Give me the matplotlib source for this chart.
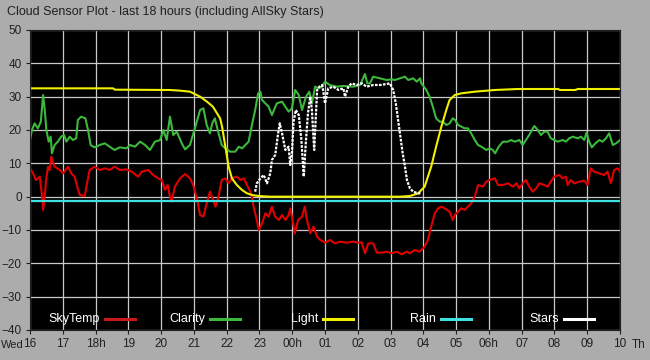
import matplotlib
matplotlib.use('Agg')
import matplotlib.pyplot as plt

plt.rcParams['font.family'] = ['Liberation Sans', 'DejaVu Sans']

# hours since 16:00 on Wed
hour_labels = ['16', '17', '18h', '19', '20', '21', '22', '23', '00h', '01', '02', '03',
               '04', '05', '06h', '07', '08', '09', '10']

skytemp_t = [0.00, 0.09, 0.18, 0.30, 0.37, 0.40, 0.45, 0.49, 0.55, 0.60, 0.65, 0.75, 0.91, 1.01,
             1.16, 1.26, 1.36, 1.44, 1.52, 1.67, 1.74, 1.82, 1.97, 2.13, 2.28, 2.43, 2.58, 2.74,
             2.94, 3.10, 3.30, 3.41, 3.61, 3.76, 3.91, 4.02, 4.12, 4.20, 4.27, 4.32, 4.42, 4.58,
             4.73, 4.88, 4.98, 5.09, 5.19, 5.29, 5.39, 5.49, 5.59, 5.66, 5.74, 5.85, 5.96, 6.06,
             6.16, 6.31, 6.42, 6.52, 6.62, 6.72, 6.77, 6.82, 6.92, 6.98, 7.08, 7.18, 7.28, 7.38,
             7.48, 7.59, 7.69, 7.79, 7.89, 7.94, 8.01, 8.08, 8.18, 8.30, 8.38, 8.45, 8.55, 8.65,
             8.76, 8.86, 9.00, 9.15, 9.30, 9.46, 9.66, 9.86, 10.02, 10.12, 10.22, 10.32, 10.47,
             10.58, 10.73, 10.88, 11.03, 11.19, 11.34, 11.49, 11.59, 11.74, 11.88, 11.94, 12.04,
             12.14, 12.24, 12.35, 12.45, 12.55, 12.65, 12.80, 12.90, 12.96, 13.06, 13.16, 13.26,
             13.36, 13.46, 13.57, 13.67, 13.82, 13.92, 14.02, 14.18, 14.28, 14.43, 14.58, 14.73,
             14.84, 14.93, 15.03, 15.13, 15.23, 15.34, 15.44, 15.54, 15.69, 15.79, 15.89, 15.99,
             16.15, 16.25, 16.35, 16.40, 16.50, 16.60, 16.76, 16.91, 17.01, 17.11, 17.21, 17.37,
             17.52, 17.62, 17.72, 17.82, 17.93, 18.00]
skytemp = [8.5, 7.1, 5, 6, 0, -4, 0, 5, 9, 8, 12, 9, 8, 7,
           9, 7, 6, 3, 0.5, 0.2, 4, 8, 9, 8, 8.5, 8, 9, 8,
           8.2, 7.5, 6, 7.5, 8, 6.5, 5.5, 5, 2, 3.5, 0, -1.5, 3, 5.5,
           6.8, 5.5, 3.5, -0.5, -5.5, -6, -2, 1.5, -1, -3, -0.5, 5, 5.5, 4,
           5.5, 6, 5, 5.5, 3.5, 1.5, 0, -3, -7, -10, -8, -5, -6, -3,
           -6, -7, -5.5, -7, -5.5, -3.5, -7, -11, -7, -6, -3, -7, -11, -9,
           -12, -13, -13.8, -13, -14, -13.5, -13.8, -13.5, -13.8, -13.7, -17, -14, -14,
           -16.8, -16.8, -16.5, -17, -16.5, -17.3, -16.5, -17, -16, -16.5, -16, -15,
           -13, -9, -5, -3.5, -3, -3.5, -4.5, -7, -5.5, -4.5, -3.5, -4,
           -3, -2, 0, 3.5, 3, 4.5, 5, 5.5, 3.5, 3.5, 4, 3,
           4, 2.5, 4, 5, 3, 1.5, 2.5, 4, 3.5, 3, 4.5, 6,
           6.5, 5.5, 6, 3.5, 5, 4, 4.5, 4.8, 3.5, 8.5, 7.5, 7,
           6.5, 7.5, 4, 8, 8.5, 7.5]

clarity_t = [0.00, 0.06, 0.14, 0.24, 0.33, 0.40, 0.45, 0.50, 0.57, 0.63, 0.67, 0.75, 0.85, 0.95,
             1.04, 1.11, 1.21, 1.31, 1.41, 1.46, 1.56, 1.69, 1.77, 1.85, 1.97, 2.13, 2.28, 2.43,
             2.58, 2.74, 2.94, 3.05, 3.20, 3.36, 3.51, 3.66, 3.81, 3.97, 4.07, 4.17, 4.27, 4.37,
             4.48, 4.63, 4.73, 4.88, 5.03, 5.19, 5.29, 5.39, 5.49, 5.56, 5.64, 5.74, 5.85, 5.96,
             6.11, 6.26, 6.37, 6.47, 6.57, 6.67, 6.77, 6.87, 6.96, 7.03, 7.08, 7.18, 7.28, 7.38,
             7.53, 7.69, 7.79, 7.89, 7.99, 8.09, 8.20, 8.30, 8.42, 8.52, 8.60, 8.70, 8.81, 8.91,
             9.00, 9.15, 9.36, 9.56, 9.86, 10.07, 10.22, 10.29, 10.37, 10.47, 10.68, 10.88, 11.03,
             11.13, 11.29, 11.44, 11.54, 11.69, 11.80, 11.90, 11.94, 12.09, 12.19, 12.29, 12.39,
             12.50, 12.60, 12.70, 12.80, 12.90, 12.97, 13.06, 13.16, 13.26, 13.36, 13.46, 13.57,
             13.67, 13.77, 13.92, 14.02, 14.12, 14.19, 14.30, 14.43, 14.58, 14.68, 14.79, 14.93,
             15.03, 15.13, 15.23, 15.34, 15.39, 15.49, 15.59, 15.69, 15.79, 15.89, 15.99, 16.10,
             16.25, 16.35, 16.45, 16.56, 16.71, 16.81, 16.91, 16.98, 17.06, 17.14, 17.25, 17.37,
             17.47, 17.57, 17.67, 17.78, 17.88, 18.00]
clarity = [17, 20, 22, 20.5, 22.5, 30.5, 26, 20, 16.5, 18, 13, 15.5, 16.5, 18,
           18.5, 16.5, 18, 17, 17.5, 23, 24, 23.5, 20, 15.5, 14.8, 15.5, 16, 15,
           14, 14.8, 14.5, 15.5, 15, 16.5, 15.5, 14, 16.5, 17, 20, 17, 24, 18.5,
           19.5, 16, 14.2, 15.5, 20.5, 26, 26.5, 21.5, 19, 22, 23.5, 19.5, 15.5, 14.5,
           13.5, 13.5, 15, 14.5, 15.5, 16.5, 21.5, 26, 31, 31.5, 29, 28, 27, 24.5,
           28, 28.5, 27, 25.5, 26.5, 32, 30.5, 26, 30, 31.5, 28, 33, 32.5, 33,
           34.5, 33.5, 33, 33.2, 33, 33.5, 36.8, 34, 34, 36, 35.5, 35, 35.2,
           35, 35.5, 36, 35, 35.5, 34.5, 35.5, 34, 32, 30, 27, 23.5,
           22.5, 22.5, 21.5, 22, 23.5, 23, 21.5, 21, 20.5, 20.5, 19, 17,
           15.5, 15, 14, 14.5, 14, 13, 15, 16.5, 16.5, 17, 16.5, 17,
           15.5, 17, 18.5, 20.5, 21.2, 20, 18.5, 19.5, 19.5, 17.5, 17, 16.5,
           17, 16.5, 17.5, 18, 17.5, 18, 17, 19.2, 16.5, 14.8, 16, 17,
           16.5, 17.5, 19, 15.5, 16, 17]

light_t = [0.00, 2.53, 2.59, 4.27, 4.58, 4.88, 5.19, 5.40, 5.58, 5.80, 5.86, 5.96, 6.06, 6.16,
           6.31, 6.47, 6.62, 6.77, 6.98, 7.32, 11.29, 11.59, 11.84, 12.04, 12.24, 12.39, 12.55,
           12.70, 12.80, 12.96, 13.16, 13.57, 14.18, 14.89, 16.11, 16.17, 16.63, 16.72, 18.00]
light = [32.5, 32.5, 32.1, 32, 31.8, 31.5, 30, 28.5, 27, 23.5, 21, 15, 9, 5.5,
         3.5, 2, 1, 0.5, 0.2, 0, 0, 0.2, 1, 3, 9, 15, 21,
         26, 29, 30.5, 31, 31.5, 32, 32.3, 32.3, 32, 32, 32.3, 32.3]

rain_t = [0.0, 18.0]
rain = [-1.3, -1.3]

stars_t = [6.87, 6.92, 7.03, 7.13, 7.23, 7.33, 7.38, 7.48, 7.57, 7.62, 7.69, 7.79, 7.89, 7.94,
           7.99, 8.04, 8.11, 8.20, 8.28, 8.35, 8.42, 8.48, 8.55, 8.60, 8.67, 8.76, 8.83, 8.91,
           8.95, 9.00, 9.10, 9.25, 9.41, 9.56, 9.61, 9.71, 9.81, 9.97, 10.12, 10.27, 10.47,
           10.68, 10.88, 10.98, 11.08, 11.16, 11.23, 11.30, 11.37, 11.44, 11.50, 11.59, 11.69,
           11.84, 11.95]
stars = [1.5, 4, 5.5, 6.5, 4, 7, 11, 12.5, 19, 22, 19, 14, 15, 9.5,
         13, 22.5, 26, 24.5, 17, 6, 17, 25, 30, 26, 14, 32, 33, 33.5,
         31.5, 28, 32.5, 33, 32, 32.5, 30, 33, 34, 33.5, 34, 33, 33.5,
         33.5, 33.8, 34, 32, 28, 23, 18, 13, 9, 5, 2.5, 1.5,
         1, 1]

series = [('SkyTemp', skytemp_t, skytemp, '#e00000', '-'),
          ('Clarity', clarity_t, clarity, '#3cb83c', '-'),
          ('Light', light_t, light, '#f0f000', '-'),
          ('Rain', rain_t, rain, '#40e0e0', '-'),
          ('Stars', stars_t, stars, '#ffffff', (0, (1.2, 0.6)))]

bg = '#acacac'
fig = plt.figure(figsize=(6.5, 3.6), dpi=100, facecolor=bg)
ax = fig.add_axes([30 / 650, 30 / 360, 590 / 650, 300 / 360])
ax.set_facecolor('black')

ax.set_xlim(0, 18)
ax.set_ylim(-40, 50)
ax.set_xticks(range(len(hour_labels)))
ax.set_xticklabels(hour_labels)
ax.set_yticks(range(-40, 51, 10))
ax.grid(True, color='#c8c8c8', linewidth=0.9)
ax.set_axisbelow(True)
ax.tick_params(colors='#202020', labelsize=8.5, length=3, width=0.8, pad=3)
for s in ax.spines.values():
    s.set_color('#202020')

for name, t, v, col, ls in series:
    lw = 1.6 if name in ('Stars', 'Rain') else 1.5
    ax.plot(t, v, color=col, linewidth=lw, linestyle=ls)

# legend drawn inside the plot, like the original
leg_starts = [105, 210, 323, 441, 564]
leg_cols = ['#c81818', '#3cb83c', '#f0f000', '#40e0e0', '#ffffff']
for (name, *_), x0, col in zip(series, leg_starts, leg_cols):
    yy = 1 - 319 / 360
    fig.text((x0 - 5) / 650, yy, name, color='white', fontsize=9, ha='right', va='center')
    fig.add_artist(plt.Line2D([x0 / 650, (x0 + 30) / 650], [yy, yy], color=col, linewidth=2.2))

fig.text(7 / 650, 1 - 12 / 360, 'Cloud Sensor Plot - last 18 hours (including AllSky Stars)',
         color='#202020', fontsize=9, ha='left', va='center')
fig.text(1 / 650, 1 - 345 / 360, 'Wed', color='#202020', fontsize=8, ha='left', va='center')
fig.text(632 / 650, 1 - 345 / 360, 'Th', color='#202020', fontsize=8.5, ha='left', va='center')

fig.savefig('out.png', dpi=100, facecolor=bg)
